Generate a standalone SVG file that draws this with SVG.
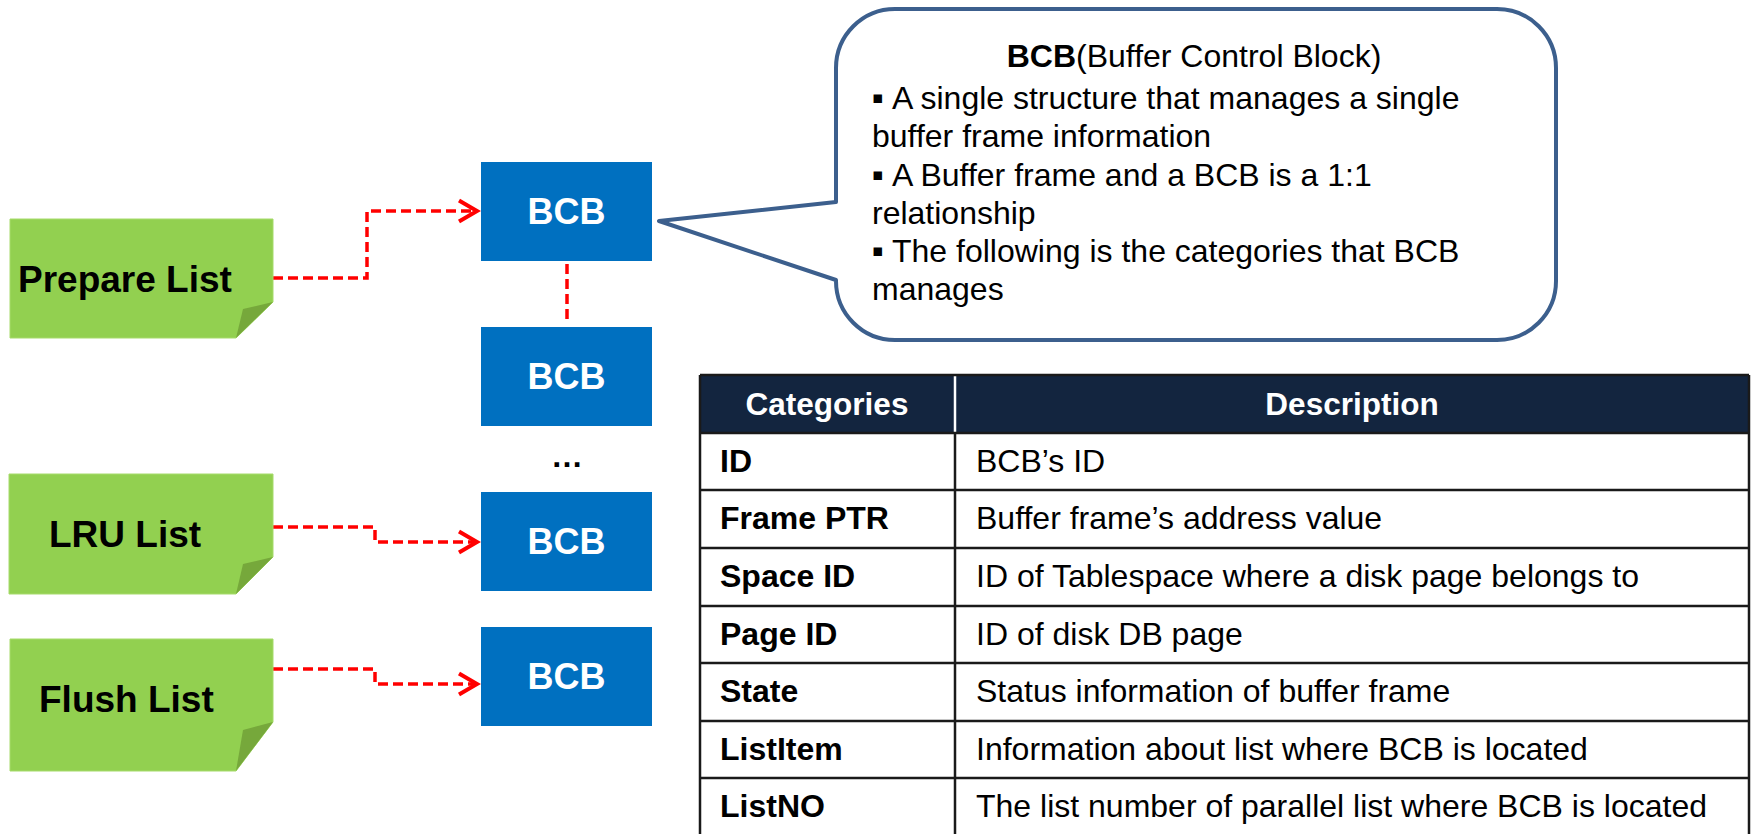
<svg xmlns="http://www.w3.org/2000/svg" width="1757" height="834" viewBox="0 0 1757 834">
<defs>
<style>
.note{fill:#92d050;stroke:#a6db6a;stroke-width:1}
.fold{fill:#76a83b}
.notetxt{font-family:"Liberation Sans",Arial,sans-serif;font-weight:bold;font-size:37px;fill:#000}
.bcb{fill:#0070c0}
.bcbtxt{font-family:"Liberation Sans",Arial,sans-serif;font-weight:bold;font-size:36px;fill:#fff;text-anchor:middle}
.conn{fill:none;stroke:#ff0000;stroke-width:3.5;stroke-dasharray:10 5}
.txt{font-family:"Liberation Sans",Arial,sans-serif;font-size:32px;fill:#000}
.b{font-weight:bold}
.bul{font-family:"DejaVu Sans",sans-serif;font-size:17px;fill:#000}
.hdr{font-family:"Liberation Sans",Arial,sans-serif;font-weight:bold;font-size:31.5px;fill:#fff;text-anchor:middle}
.grid{stroke:#1a1a1a;stroke-width:2.5;fill:none}
</style>
<marker id="arr" markerWidth="26" markerHeight="28" refX="21" refY="14" orient="auto" markerUnits="userSpaceOnUse">
<polyline points="3,3.5 21,14 3,24.5" fill="none" stroke="#ff0000" stroke-width="4"/>
</marker>
</defs>
<rect width="1757" height="834" fill="#fff"/>

<g id="connectors">
<path class="conn" d="M273,278 H367 V211 H477" marker-end="url(#arr)"/>
<path class="conn" d="M273,527 H375 V542 H477" marker-end="url(#arr)"/>
<path class="conn" d="M273,669 H375 V684 H477" marker-end="url(#arr)"/>
<path class="conn" d="M567,264 V324"/>
</g>

<g id="prepare-list">
<path class="note" d="M10,219 H273 V302 L236,338 H10 Z"/>
<path class="fold" d="M273,302 L243,309 L236,338 Z"/>
<text class="notetxt" x="18" y="292">Prepare List</text>
</g>
<g id="lru-list">
<path class="note" d="M9,474 H273 V557 L236,594 H9 Z"/>
<path class="fold" d="M273,557 L243,564 L236,594 Z"/>
<text class="notetxt" x="49" y="547">LRU List</text>
</g>
<g id="flush-list">
<path class="note" d="M10,639 H273 V722 L236,771 H10 Z"/>
<path class="fold" d="M273,722 L243,730 L236,771 Z"/>
<text class="notetxt" x="39" y="712">Flush List</text>
</g>

<g id="bcb1"><rect class="bcb" x="481" y="162" width="171" height="99"/><text class="bcbtxt" x="566.5" y="224">BCB</text></g>
<g id="bcb2"><rect class="bcb" x="481" y="327" width="171" height="99"/><text class="bcbtxt" x="566.5" y="389">BCB</text></g>
<g id="ellipsis"><text class="txt b" x="567" y="467" text-anchor="middle" font-size="32">…</text></g>
<g id="bcb3"><rect class="bcb" x="481" y="492" width="171" height="99"/><text class="bcbtxt" x="566.5" y="554">BCB</text></g>
<g id="bcb4"><rect class="bcb" x="481" y="627" width="171" height="99"/><text class="bcbtxt" x="566.5" y="689">BCB</text></g>

<g id="callout">
<path d="M895,9 H1497 A59,59 0 0 1 1556,68 V281 A59,59 0 0 1 1497,340 H895 A59,59 0 0 1 836,281 V280 L659,221 L836,202 V68 A59,59 0 0 1 895,9 Z" fill="#fff" stroke="#3c5f8d" stroke-width="4" stroke-linejoin="round"/>
<text class="txt" x="1194" y="67" text-anchor="middle"><tspan class="b">BCB</tspan>(Buffer Control Block)</text>
<text class="bul" x="872" y="103">▪</text>
<text class="txt" x="892" y="109">A single structure that manages a single</text>
<text class="txt" x="872" y="147">buffer frame information</text>
<text class="bul" x="872" y="180">▪</text>
<text class="txt" x="892" y="186">A Buffer frame and a BCB is a 1:1</text>
<text class="txt" x="872" y="224">relationship</text>
<text class="bul" x="872" y="256">▪</text>
<text class="txt" x="892" y="262">The following is the categories that BCB</text>
<text class="txt" x="872" y="300">manages</text>
</g>

<g id="table">
<rect x="700" y="375" width="1049" height="58" fill="#13253f"/>
<line x1="955" y1="376" x2="955" y2="432" stroke="#fff" stroke-width="2.5"/>
<path class="grid" d="M700,375 H1749 M700,433 H1749 M700,490 H1749 M700,548 H1749 M700,606 H1749 M700,663 H1749 M700,721 H1749 M700,778 H1749 M700,375 V836 M1749,375 V836 M955,433 V836"/>
<text class="hdr" x="827" y="415">Categories</text>
<text class="hdr" x="1352" y="415">Description</text>
<text class="txt b" x="720" y="472">ID</text>
<text class="txt" x="976" y="472">BCB’s ID</text>
<text class="txt b" x="720" y="529">Frame PTR</text>
<text class="txt" x="976" y="529">Buffer frame’s address value</text>
<text class="txt b" x="720" y="587">Space ID</text>
<text class="txt" x="976" y="587">ID of Tablespace where a disk page belongs to</text>
<text class="txt b" x="720" y="645">Page ID</text>
<text class="txt" x="976" y="645">ID of disk DB page</text>
<text class="txt b" x="720" y="702">State</text>
<text class="txt" x="976" y="702">Status information of buffer frame</text>
<text class="txt b" x="720" y="760">ListItem</text>
<text class="txt" x="976" y="760">Information about list where BCB is located</text>
<text class="txt b" x="720" y="817">ListNO</text>
<text class="txt" x="976" y="817">The list number of parallel list where BCB is located</text>
</g>
</svg>
